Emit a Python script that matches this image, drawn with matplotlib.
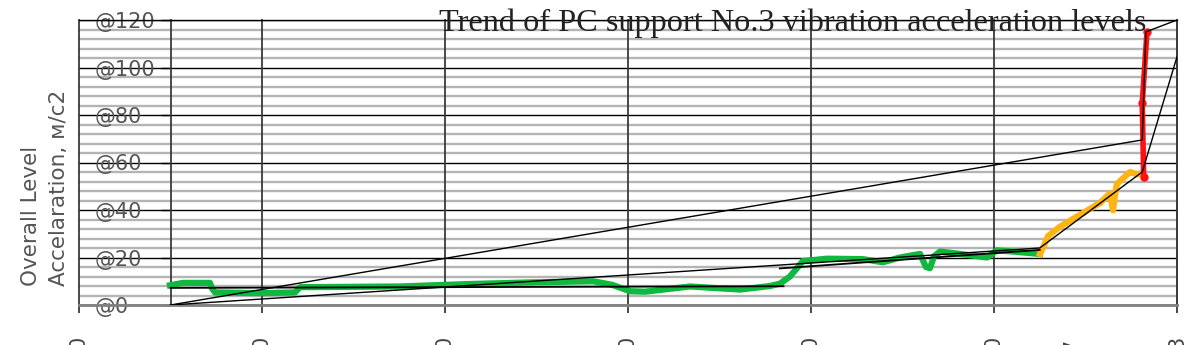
import matplotlib.pyplot as plt

# --- data (x in grid steps, y in m/s2) ---
green_x = [0.497, 0.568, 0.716, 0.727, 0.743, 1.0, 1.18, 1.208, 1.754, 2.12, 2.464,
           2.809, 2.913, 3.011, 3.093, 3.339, 3.612, 3.776, 3.831, 3.885, 3.956,
           4.087, 4.284, 4.393, 4.486, 4.596, 4.628, 4.650, 4.672, 4.705, 4.814,
           4.962, 5.016, 5.104, 5.251]
green_y = [8.3, 9.3, 9.3, 7.0, 5.3, 5.0, 5.3, 7.5, 7.8, 8.8, 9.5,
           10.0, 8.5, 5.8, 5.6, 7.8, 6.5, 8.0, 9.0, 12.0, 18.5,
           19.5, 19.3, 18.0, 20.0, 21.5, 16.0, 15.5, 20.5, 22.5, 21.5,
           20.0, 23.0, 22.5, 21.5]

orange_x = [5.251, 5.273, 5.295, 5.361, 5.486, 5.579, 5.634, 5.650, 5.667, 5.672,
            5.743, 5.781, 5.814]
orange_y = [21.5, 25.0, 29.0, 33.0, 38.7, 43.0, 47.0, 40.0, 49.0, 51.0,
            56.0, 55.0, 55.5]

red_x = [5.818, 5.810, 5.836]
red_y = [54.0, 85.0, 115.0]

# black trend lines
trend_a_x = [0.5, 5.81, 5.83, 6.0]
trend_a_y = [0.0, 69.5, 115.0, 120.0]
trend_b_x = [0.5, 5.25, 5.81, 6.0]
trend_b_y = [0.0, 24.0, 56.0, 104.5]
trend_c1_x = [0.5, 3.85]
trend_c1_y = [7.2, 7.9]
trend_c2_x = [3.83, 5.25]
trend_c2_y = [15.4, 23.2]

y_ticks = [0, 20, 40, 60, 80, 100, 120]
y_tick_labels = ["@0", "@20", "@40", "@60", "@80", "@100", "@120"]
x_ticks = [0, 1, 2, 3, 4, 5, 6]
x_tick_labels = ["0", "0", "0", "0", "0", "0", "3"]
extra_tick = [5.43]
extra_tick_label = ["7"]

title = "Trend of PC support No.3 vibration acceleration levels"
ylabel = "Overall Level\nAccelaration, м/с2"

fig = plt.figure(figsize=(12, 3.45), dpi=100)
ax = fig.add_axes([79 / 1200, 40 / 345, 1098 / 1200, 285 / 345])
ax.set_xlim(0, 6)
ax.set_ylim(0, 120)

# horizontal grid: gray every 4, black every 20
for v in range(0, 121, 4):
    if v % 20 == 0:
        ax.axhline(v, color="black", lw=1.0, zorder=1)
    else:
        ax.axhline(v, color="#b4b4b4", lw=1.7, zorder=0.5)

# vertical grid
for v in x_ticks:
    ax.axvline(v, color="#3a3a3a", lw=1.3, zorder=1, clip_on=False)

# trend lines
ax.plot(trend_a_x, trend_a_y, color="black", lw=1.0, zorder=4)
ax.plot(trend_b_x, trend_b_y, color="black", lw=1.0, zorder=4)

# data
ax.plot(green_x, green_y, color="#10b840", lw=4.5, solid_joinstyle="round", zorder=3)
ax.plot(orange_x, orange_y, color="#ffb414", lw=4.5, marker="o", ms=3,
        solid_joinstyle="round", zorder=3)
ax.plot(red_x, red_y, color="#ff1010", lw=4.0, marker="o", ms=5, zorder=3)

ax.plot(trend_c1_x, trend_c1_y, color="black", lw=1.3, zorder=4)
ax.plot(trend_c2_x, trend_c2_y, color="black", lw=1.3, zorder=4)

# spines
ax.spines["left"].set_position(("data", 0.5))
ax.spines["left"].set_color("#3a3a3a")
ax.spines["left"].set_linewidth(1.3)
ax.spines["right"].set_color("#3a3a3a")
ax.spines["right"].set_linewidth(1.3)
ax.spines["top"].set_color("black")
ax.spines["top"].set_linewidth(1.0)
ax.spines["bottom"].set_color("#808080")
ax.spines["bottom"].set_linewidth(2.0)

ax.set_yticks(y_ticks)
ax.set_yticklabels(y_tick_labels)
ax.tick_params(axis="y", direction="out", length=7.5, width=1.0, color="black",
               labelsize=15, labelcolor="#555555", pad=46.8)
for lab in ax.get_yticklabels():
    lab.set_horizontalalignment("left")

# x labels sit low and are cut by the figure edge, as in the source
ax.set_xticks(x_ticks)
ax.set_xticklabels(x_tick_labels, rotation=90)
ax.set_xticks(extra_tick, minor=True)
ax.set_xticklabels(extra_tick_label, minor=True, rotation=90)
ax.tick_params(axis="x", which="major", direction="out", length=6, width=1.3,
               color="#3a3a3a", labelsize=15, labelcolor="#444444", pad=16)
ax.tick_params(axis="x", which="minor", length=0, labelsize=15,
               labelcolor="#444444", pad=24.5)

fig.text(793 / 1200, 1 - 23 / 345, title, ha="center", va="center",
         family="Liberation Serif", fontsize=23.2, color="#222222", zorder=10)
fig.text(45 / 1200, 1 - 286 / 345, ylabel, rotation=90, ha="center", va="bottom",
         multialignment="left", linespacing=1.5, fontsize=15.5, color="#555555")

fig.savefig("out.png", dpi=100)
